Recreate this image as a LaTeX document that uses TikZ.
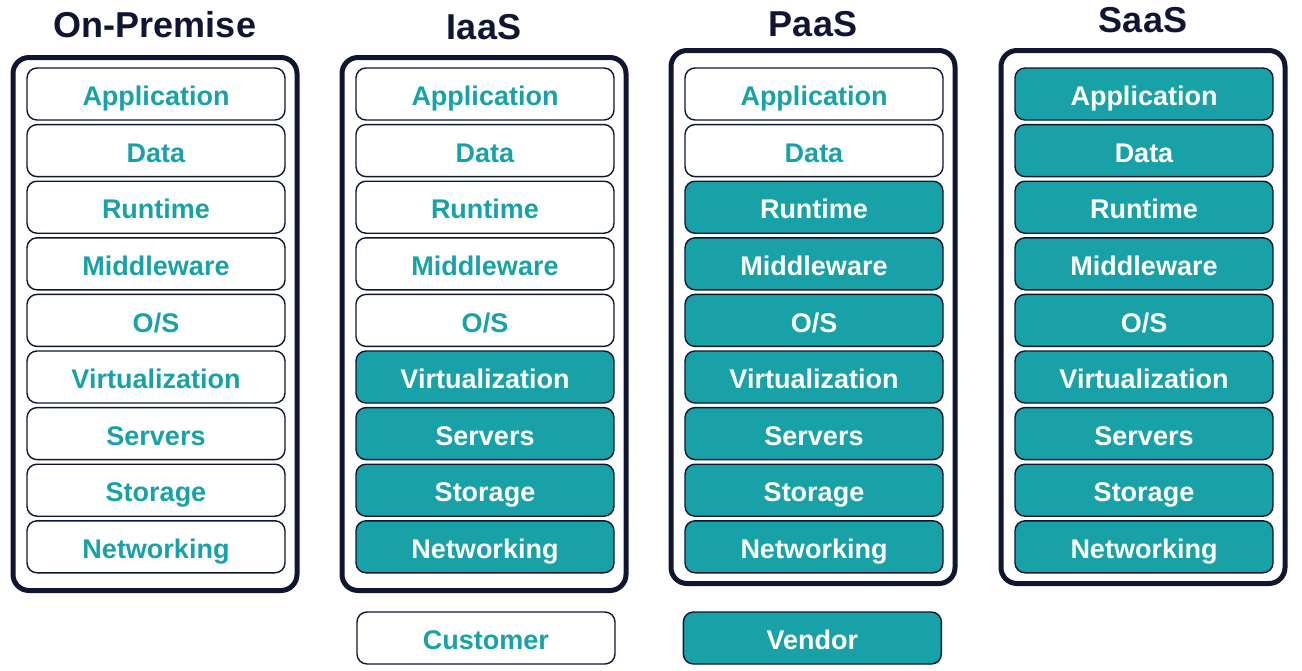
\documentclass[tikz,border=0pt]{standalone}
\usepackage{fontspec}
\setmainfont{Liberation Sans}
\usetikzlibrary{positioning}
\definecolor{stackteal}{RGB}{24, 162, 168}
\definecolor{stacknavy}{RGB}{14, 22, 52}
\tikzset{
    frame/.style={rectangle, draw=stacknavy, line width=5pt, rounded corners=16pt, minimum width=284pt, minimum height=533pt},
    layer/.style={rectangle, draw=stacknavy, line width=1.4pt, rounded corners=10pt, minimum width=258pt, minimum height=52pt, text height=24pt, text depth=0.6pt, inner ysep=0pt, font=\fontsize{27}{30}\selectfont\bfseries},
    customer/.style={layer, fill=white, text=stackteal},
    vendor/.style={layer, fill=stackteal, text=white},
    title/.style={font=\fontsize{36}{40}\selectfont\bfseries, text=stacknavy}
}
\begin{document}
\begin{tikzpicture}[x=1pt, y=-1pt]
    \useasboundingbox (0,0) rectangle (1302,670);

    % Service models
    \foreach \name/\label/\cx/\top/\ty/\ncust in {onprem/On-Premise/155/55/25/9, iaas/IaaS/484/55/27/5, paas/PaaS/813/48/24/2, saas/SaaS/1143/48/20/0} {
        \node[frame, anchor=north] (\name) at (\cx,\top) {};
        \node[title] (\name-title) at (\cx,\ty) {\label};
        \foreach \lay [count=\i] in {Application, Data, Runtime, Middleware, {O/S}, Virtualization, Servers, Storage, Networking} {
            \ifnum\i>\ncust\relax
                \tikzset{cur/.style={vendor}}
            \else
                \tikzset{cur/.style={customer}}
            \fi
            \node[cur] (\name-\i) at (\cx+1, 94+56.6*\i-56.6) {\lay};
        }
    }

    % Legend
    \node[customer] (cust) at (486,638) {Customer};
    \node[vendor, right=67pt of cust] (vend) {Vendor};

\end{tikzpicture}
\end{document}
